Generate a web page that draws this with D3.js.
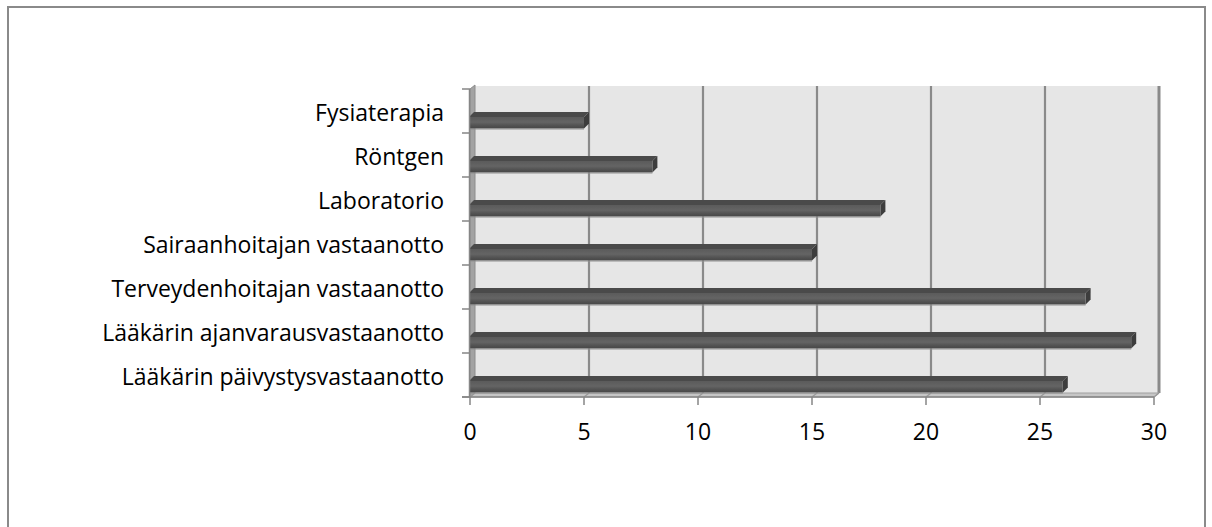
<!DOCTYPE html>
<html>
<head>
<meta charset="utf-8">
<script src="https://cdn.jsdelivr.net/npm/d3@7"></script>
<style>
  html, body { margin: 0; padding: 0; background: #fff; }
  svg { display: block; }
  text { font-family: "Open Sans", Lato, sans-serif; fill: #000; }
</style>
</head>
<body>
<svg id="chart" width="1212" height="527"></svg>
<script>
// Categories listed bottom to top
const categories = [
  "Lääkärin päivystysvastaanotto",
  "Lääkärin ajanvarausvastaanotto",
  "Terveydenhoitajan vastaanotto",
  "Sairaanhoitajan vastaanotto",
  "Laboratorio",
  "Röntgen",
  "Fysiaterapia"
];
const values = [26, 29, 27, 15, 18, 8, 5];
const xTicks = [0, 5, 10, 15, 20, 25, 30];

const svg = d3.select("#chart");

// 3D depth offset of the walls
const DX = 5, DY = -4;
// bar depth offset and thickness
const BDX = 5, BDY = -5, BH = 11.5, BGAP = 4.5;

const x = d3.scaleLinear().domain([0, 30]).range([470, 1154]);
const y = d3.scaleBand().domain(categories).range([397, 89]).padding(0);
const bw = y.bandwidth();
const yTop = 89, yBot = 397;

const defs = svg.append("defs");
const g1 = defs.append("linearGradient").attr("id", "barFront")
  .attr("x1", 0).attr("y1", 0).attr("x2", 0).attr("y2", 1);
g1.append("stop").attr("offset", "0%").attr("stop-color", "#5b5b5b");
g1.append("stop").attr("offset", "45%").attr("stop-color", "#646464");
g1.append("stop").attr("offset", "75%").attr("stop-color", "#525252");
g1.append("stop").attr("offset", "100%").attr("stop-color", "#474747");

// outer frame
svg.append("rect")
  .attr("x", 8).attr("y", 7).attr("width", 1197).attr("height", 540)
  .attr("fill", "#fff").attr("stroke", "#8a8a8a").attr("stroke-width", 2);

// back wall
svg.append("rect")
  .attr("x", x(0) + DX).attr("y", yTop + DY + 1)
  .attr("width", x(30) - x(0))
  .attr("height", (yBot + DY) - (yTop + DY + 1))
  .attr("fill", "#e6e6e6");

// gridlines on the back wall
svg.append("g").selectAll("line").data(xTicks.slice(1)).join("line")
  .attr("x1", d => x(d) + DX).attr("x2", d => x(d) + DX)
  .attr("y1", yTop + DY + 1).attr("y2", yBot + DY)
  .attr("stroke", "#8a8a8a").attr("stroke-width", d => d === 30 ? 3 : 2.2);

// left wall
svg.append("path")
  .attr("d", `M${x(0)},${yTop}L${x(0) + DX},${yTop + DY}L${x(0) + DX},${yBot + DY}L${x(0)},${yBot}Z`)
  .attr("fill", "#a3a3a3").attr("stroke", "#8c8c8c").attr("stroke-width", 1);

// floor
svg.append("path")
  .attr("d", `M${x(0)},${yBot}L${x(0) + DX},${yBot + DY}L${x(30) + DX},${yBot + DY}L${x(30)},${yBot}Z`)
  .attr("fill", "#c6c6c6").attr("stroke", "#a0a0a0").attr("stroke-width", 1);

// gridlines across the floor
svg.append("g").selectAll("line").data(xTicks).join("line")
  .attr("x1", d => x(d) + DX).attr("y1", yBot + DY)
  .attr("x2", d => x(d)).attr("y2", yBot)
  .attr("stroke", "#9a9a9a").attr("stroke-width", 1.5);

// bars
const bars = svg.append("g").selectAll("g").data(categories).join("g");
bars.each(function (c, i) {
  const gsel = d3.select(this);
  const v = values[i];
  const fb = y(c) + bw - BGAP;   // bottom of front face
  const ft = fb - BH;            // top of front face
  const x0 = x(0) - 1, x1 = x(v);
  // top face
  gsel.append("path")
    .attr("d", `M${x0},${ft}L${x0 + BDX},${ft + BDY}L${x1 + BDX},${ft + BDY}L${x1},${ft}Z`)
    .attr("fill", "#4a4a4a");
  // end cap
  gsel.append("path")
    .attr("d", `M${x1},${ft}L${x1 + BDX},${ft + BDY}L${x1 + BDX},${fb + BDY}L${x1},${fb}Z`)
    .attr("fill", "#3d3d3d");
  // front face
  gsel.append("rect")
    .attr("x", x0).attr("y", ft).attr("width", x1 - x0).attr("height", BH)
    .attr("fill", "url(#barFront)");
  // lower edge highlight
  gsel.append("line")
    .attr("x1", x0).attr("x2", x1).attr("y1", fb + 0.5).attr("y2", fb + 0.5)
    .attr("stroke", "#8f8f8f").attr("stroke-width", 1);
});

// category axis line and ticks
svg.append("line")
  .attr("x1", x(0) - 0.5).attr("x2", x(0) - 0.5).attr("y1", yTop).attr("y2", yBot)
  .attr("stroke", "#868686").attr("stroke-width", 1.5);
const yBounds = categories.map(c => y(c)).concat([yBot]);
svg.append("g").selectAll("line").data(yBounds).join("line")
  .attr("x1", x(0) - 8).attr("x2", x(0))
  .attr("y1", d => d).attr("y2", d => d)
  .attr("stroke", "#868686").attr("stroke-width", 1.5);

// value axis line and ticks
svg.append("line")
  .attr("x1", x(0) - 8).attr("x2", x(30)).attr("y1", yBot).attr("y2", yBot)
  .attr("stroke", "#868686").attr("stroke-width", 1.5);
svg.append("g").selectAll("line").data(xTicks).join("line")
  .attr("x1", d => x(d)).attr("x2", d => x(d))
  .attr("y1", yBot).attr("y2", yBot + 8)
  .attr("stroke", "#868686").attr("stroke-width", 1.5);

// value labels
svg.append("g").selectAll("text").data(xTicks).join("text")
  .attr("x", d => x(d)).attr("y", 440)
  .attr("text-anchor", "middle")
  .style("font-size", "23px")
  .text(d => d);

// category labels
svg.append("g").selectAll("text").data(categories).join("text")
  .attr("x", 444).attr("y", c => y(c) + bw / 2 + 10)
  .attr("text-anchor", "end")
  .style("font-size", "23px")
  .text(c => c);
</script>
</body>
</html>
